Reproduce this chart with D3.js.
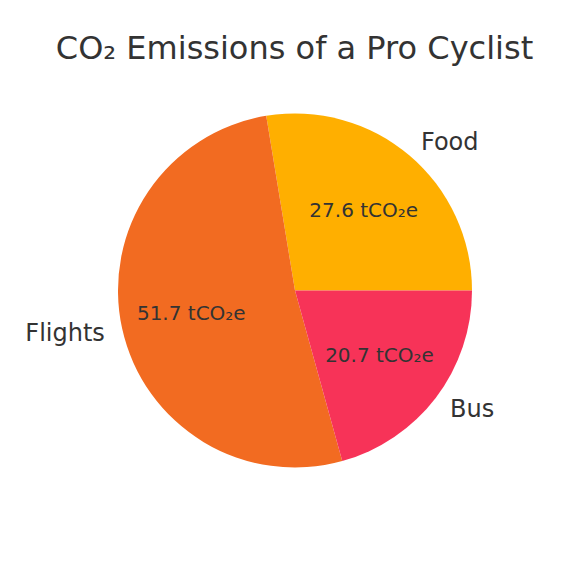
<!DOCTYPE html>
<html>
  <head>
    <meta charset="utf-8">
    <script src="https://d3js.org/d3.v7.min.js"></script>
    <title>CO2 Emissions of a Pro Cyclist</title>
    <style type="text/css">
body {
  margin: 0;
  background-color: #fff;
}
svg text {
  font-family: 'DejaVu Sans', sans-serif;
  fill: #333;
}
    </style>
  </head>
  <body>

<svg></svg>

<script type="text/javascript">
  const labels = ["Food", "Flights", "Bus"];
  const values = [27.6, 51.7, 20.7];
  const colors = ["#FFAF00", "#F26B21", "#F73358"];

  const width = 576;
  const height = 576;
  const cx = 295, cy = 290.5, radius = 177;

  const svg = d3.select("svg")
      .attr("width", width)
      .attr("height", height);

  svg.append("text")
      .attr("x", 294.5)
      .attr("y", 59)
      .attr("text-anchor", "middle")
      .style("font-size", "32px")
      .text("CO₂ Emissions of a Pro Cyclist");

  const g = svg.append("g").attr("transform", "translate(" + cx + "," + cy + ")");

  // matplotlib style: start at 3 o'clock, go counter-clockwise
  const pie = d3.pie()
      .sort(null)
      .startAngle(Math.PI / 2)
      .endAngle(Math.PI / 2 - 2 * Math.PI);

  const arcs = pie(values);
  const arc = d3.arc().innerRadius(0).outerRadius(radius);
  const mid = d => (d.startAngle + d.endAngle) / 2;

  g.selectAll("path.slice")
    .data(arcs)
    .enter().append("path")
      .attr("class", "slice")
      .attr("d", arc)
      .attr("fill", (d, i) => colors[i]);

  g.selectAll("text.label")
    .data(arcs)
    .enter().append("text")
      .attr("class", "label")
      .attr("x", d => Math.sin(mid(d)) * radius * 1.1)
      .attr("y", d => -Math.cos(mid(d)) * radius * 1.1)
      .attr("dy", "0.35em")
      .attr("text-anchor", d => Math.sin(mid(d)) > 0 ? "start" : "end")
      .style("font-size", "24px")
      .text((d, i) => labels[i]);

  g.selectAll("text.pct")
    .data(arcs)
    .enter().append("text")
      .attr("class", "pct")
      .attr("x", d => Math.sin(mid(d)) * radius * 0.6)
      .attr("y", d => -Math.cos(mid(d)) * radius * 0.6)
      .attr("dy", "0.35em")
      .attr("text-anchor", "middle")
      .style("font-size", "20px")
      .text(d => d3.format(".1f")(d.value) + " tCO₂e");
</script>
  </body>
</html>
